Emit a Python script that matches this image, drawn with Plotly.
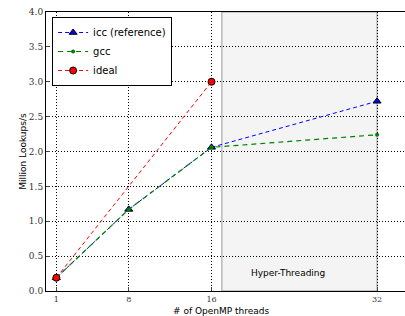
import plotly.graph_objects as go

threads = [1, 8, 16, 32]
icc = [0.19, 1.17, 2.06, 2.72]
gcc = [0.19, 1.17, 2.06, 2.24]
ideal_threads = [1, 16]
ideal = [0.19, 3.0]
ht_start, ht_end = 17, 32
y_ticks = [0, 0.5, 1.0, 1.5, 2.0, 2.5, 3.0, 3.5, 4.0]

fig = go.Figure()
fig.add_trace(go.Scatter(x=threads, y=icc, name="icc (reference)", mode="lines+markers",
                         line=dict(color="blue", dash="4px,3px", width=1),
                         marker=dict(symbol="triangle-up", size=7, color="blue",
                                     line=dict(color="black", width=1))))
fig.add_trace(go.Scatter(x=threads, y=gcc, name="gcc", mode="lines+markers",
                         line=dict(color="green", dash="5px,4px", width=1.2),
                         marker=dict(symbol="circle", size=4, color="green")))
fig.add_trace(go.Scatter(x=ideal_threads, y=ideal, name="ideal", mode="lines+markers",
                         line=dict(color="red", dash="4px,3px", width=1),
                         marker=dict(symbol="circle", size=7, color="red",
                                     line=dict(color="black", width=1))))

fig.add_shape(type="rect", xref="x", yref="y", x0=ht_start, x1=ht_end, y0=0, y1=4,
              fillcolor="#f4f4f4", line=dict(color="#999999", width=1), layer="below")
fig.add_annotation(x=23.4, y=0.26, text="Hyper-Threading", showarrow=False,
                   font=dict(family="DejaVu Sans", size=9, color="black"))
fig.add_annotation(xref="paper", yref="paper", x=(221 - 46) / 359, y=-0.047,
                   text="# of OpenMP threads", showarrow=False, xanchor="center", yanchor="top",
                   font=dict(family="DejaVu Sans", size=9, color="black"))
fig.add_annotation(xref="paper", yref="paper", x=-0.066, y=0.5,
                   text="Million Lookups/s", showarrow=False, textangle=-90,
                   xanchor="center", yanchor="middle",
                   font=dict(family="DejaVu Sans", size=9, color="black"))

serif = "DejaVu Serif"
fig.update_xaxes(range=[0, 34.7], tickvals=threads, ticktext=[str(t) for t in threads],
                 ticks="inside", ticklen=4, mirror=True, showline=True, linecolor="black",
                 linewidth=1, showgrid=True, gridcolor="black", griddash="1px,2px", gridwidth=1,
                 zeroline=False, tickfont=dict(family=serif, size=8, color="#333"),
                 automargin=False)
fig.update_yaxes(range=[0, 4.0], tickvals=y_ticks, ticktext=[f"{v:.1f}" for v in y_ticks],
                 ticks="inside", ticklen=4, mirror=True, showline=True, linecolor="black",
                 linewidth=1, showgrid=True, gridcolor="black", griddash="1px,2px", gridwidth=1,
                 zeroline=False, tickfont=dict(family=serif, size=9, color="#333"),
                 automargin=False)

fig.update_layout(width=405, height=316, margin=dict(l=46, r=0, t=12, b=25),
                  plot_bgcolor="white", paper_bgcolor="white",
                  legend=dict(x=0.017, y=0.982, xanchor="left", yanchor="top",
                              bgcolor="white", bordercolor="black", borderwidth=1,
                              font=dict(family="DejaVu Sans", size=10, color="black"),
                              itemwidth=30, tracegroupgap=0),
                  showlegend=True)

fig.write_html("out.html", config={"displayModeBar": False},
               post_script="document.body.style.margin='0';document.body.style.overflow='hidden';")
